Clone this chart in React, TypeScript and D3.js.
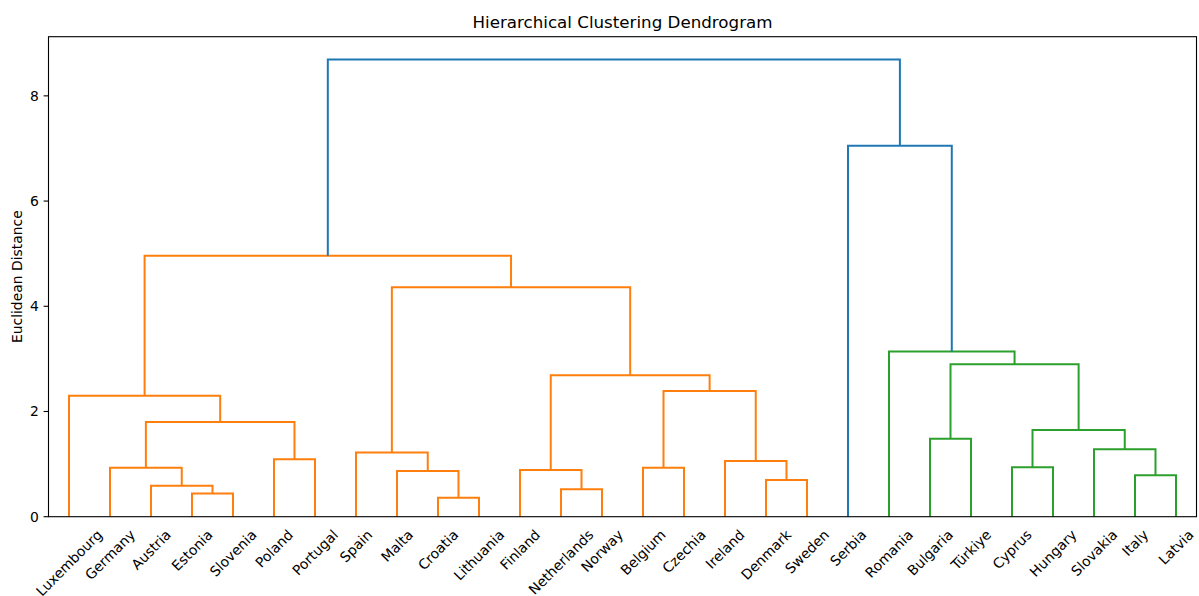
import React, { useEffect, useRef } from "react";
import * as d3 from "d3";

// Leaf labels in dendrogram order (left to right)
const countries: string[] = [
  "Luxembourg", "Germany", "Austria", "Estonia", "Slovenia", "Poland", "Portugal",
  "Spain", "Malta", "Croatia", "Lithuania", "Finland", "Netherlands", "Norway",
  "Belgium", "Czechia", "Ireland", "Denmark", "Sweden", "Serbia", "Romania",
  "Bulgaria", "Türkiye", "Cyprus", "Hungary", "Slovakia", "Italy", "Latvia",
];

// Linkage: each merge joins two node ids; leaves are 0..27, merge k gets id 28 + k
const mergeLeft: number[] = [3, 2, 1, 5, 30, 0, 9, 8, 7, 12, 11, 14, 17, 16, 39, 38, 36, 33, 26, 25, 23, 48, 21, 50, 20, 19, 45];
const mergeRight: number[] = [4, 28, 29, 6, 31, 32, 10, 34, 35, 13, 37, 15, 18, 40, 41, 42, 43, 44, 27, 46, 24, 47, 22, 49, 51, 52, 53];
const mergeHeight: number[] = [0.44, 0.59, 0.93, 1.09, 1.80, 2.30, 0.36, 0.87, 1.22, 0.52, 0.89, 0.93, 0.70, 1.06, 2.39, 2.69, 4.36, 4.96, 0.79, 1.28, 0.94, 1.65, 1.48, 2.90, 3.14, 7.05, 8.69];

const yTicks: number[] = [0, 2, 4, 6, 8];

const W = 1199;
const H = 596;
const FONT = "DejaVu Sans, sans-serif";

export default function App() {
  const ref = useRef<SVGSVGElement | null>(null);

  useEffect(() => {
    const svg = d3.select(ref.current);
    svg.selectAll("*").remove();

    const left = 48.5, right = 1196.5, top = 36.7, bottom = 516.7;
    const n = countries.length;
    const maxH = d3.max(mergeHeight) as number;

    const x = d3.scaleLinear().domain([0, n * 10]).range([left, right]);
    const y = d3.scaleLinear().domain([0, maxH * 1.05]).range([bottom, top]);

    // node positions
    const pos: number[] = countries.map((_, i) => i * 10 + 5);
    const hgt: number[] = countries.map(() => 0);
    mergeHeight.forEach((h, k) => {
      pos.push((pos[mergeLeft[k]] + pos[mergeRight[k]]) / 2);
      hgt.push(h);
    });

    // colour clusters below 0.7 * max height, left to right
    const threshold = 0.7 * maxH;
    const palette = ["#ff7f0e", "#2ca02c", "#d62728", "#9467bd"];
    const aboveColor = "#1f77b4";
    const nodeColor: string[] = countries.map(() => "");
    let next = 0;
    const assign = (id: number, c: string) => {
      nodeColor[id] = c;
      if (id >= n) {
        assign(mergeLeft[id - n], c);
        assign(mergeRight[id - n], c);
      }
    };
    const walk = (id: number) => {
      if (id < n) return;
      const k = id - n;
      if (mergeHeight[k] < threshold) {
        assign(id, palette[next++ % palette.length]);
      } else {
        nodeColor[id] = aboveColor;
        walk(mergeLeft[k]);
        walk(mergeRight[k]);
      }
    };
    walk(n + mergeHeight.length - 1);

    const g = svg.append("g");
    mergeHeight.forEach((h, k) => {
      const a = mergeLeft[k], b = mergeRight[k];
      const id = n + k;
      const c = nodeColor[id];
      const d = `M${x(pos[a])},${y(hgt[a])}V${y(h)}H${x(pos[b])}V${y(hgt[b])}`;
      g.append("path")
        .attr("d", d)
        .attr("fill", "none")
        .attr("stroke", c)
        .attr("stroke-width", 2)
        .attr("stroke-linejoin", "miter");
    });

    // frame
    svg.append("rect")
      .attr("x", left).attr("y", top)
      .attr("width", right - left).attr("height", bottom - top)
      .attr("fill", "none").attr("stroke", "#000").attr("stroke-width", 1.1);

    // y axis
    yTicks.forEach((t) => {
      svg.append("line")
        .attr("x1", left - 4.9).attr("x2", left)
        .attr("y1", y(t)).attr("y2", y(t))
        .attr("stroke", "#000").attr("stroke-width", 1.1);
      svg.append("text")
        .attr("x", left - 9.7).attr("y", y(t))
        .attr("text-anchor", "end").attr("dominant-baseline", "central")
        .attr("font-family", FONT).attr("font-size", 13.9).attr("fill", "#000")
        .text(String(t));
    });

    svg.append("text")
      .attr("transform", `translate(17,${(top + bottom) / 2}) rotate(-90)`)
      .attr("text-anchor", "middle").attr("dominant-baseline", "central")
      .attr("font-family", FONT).attr("font-size", 13.9).attr("fill", "#000")
      .text("Euclidean Distance");

    // leaf labels, rotated 45deg with bbox centred on the leaf
    const labelTop = bottom + 9.7;
    const fs = 13.9;
    countries.forEach((name, i) => {
      const t = svg.append("text")
        .attr("text-anchor", "middle").attr("dominant-baseline", "central")
        .attr("font-family", FONT).attr("font-size", fs).attr("fill", "#000")
        .text(name);
      const w = (t.node() as SVGTextElement).getComputedTextLength();
      const side = (w + fs * 1.17) * Math.SQRT1_2;
      const cx = x(pos[i]);
      const cy = labelTop + side / 2;
      t.attr("transform", `translate(${cx},${cy}) rotate(-45)`);
    });

    svg.append("text")
      .attr("x", (left + right) / 2).attr("y", top - 9)
      .attr("text-anchor", "middle")
      .attr("font-family", FONT).attr("font-size", 16.7).attr("fill", "#000")
      .text("Hierarchical Clustering Dendrogram");
  }, []);

  return (
    <svg
      ref={ref}
      width={W}
      height={H}
      style={{ position: "absolute", left: 0, top: 0, display: "block", background: "#fff" }}
    />
  );
}
